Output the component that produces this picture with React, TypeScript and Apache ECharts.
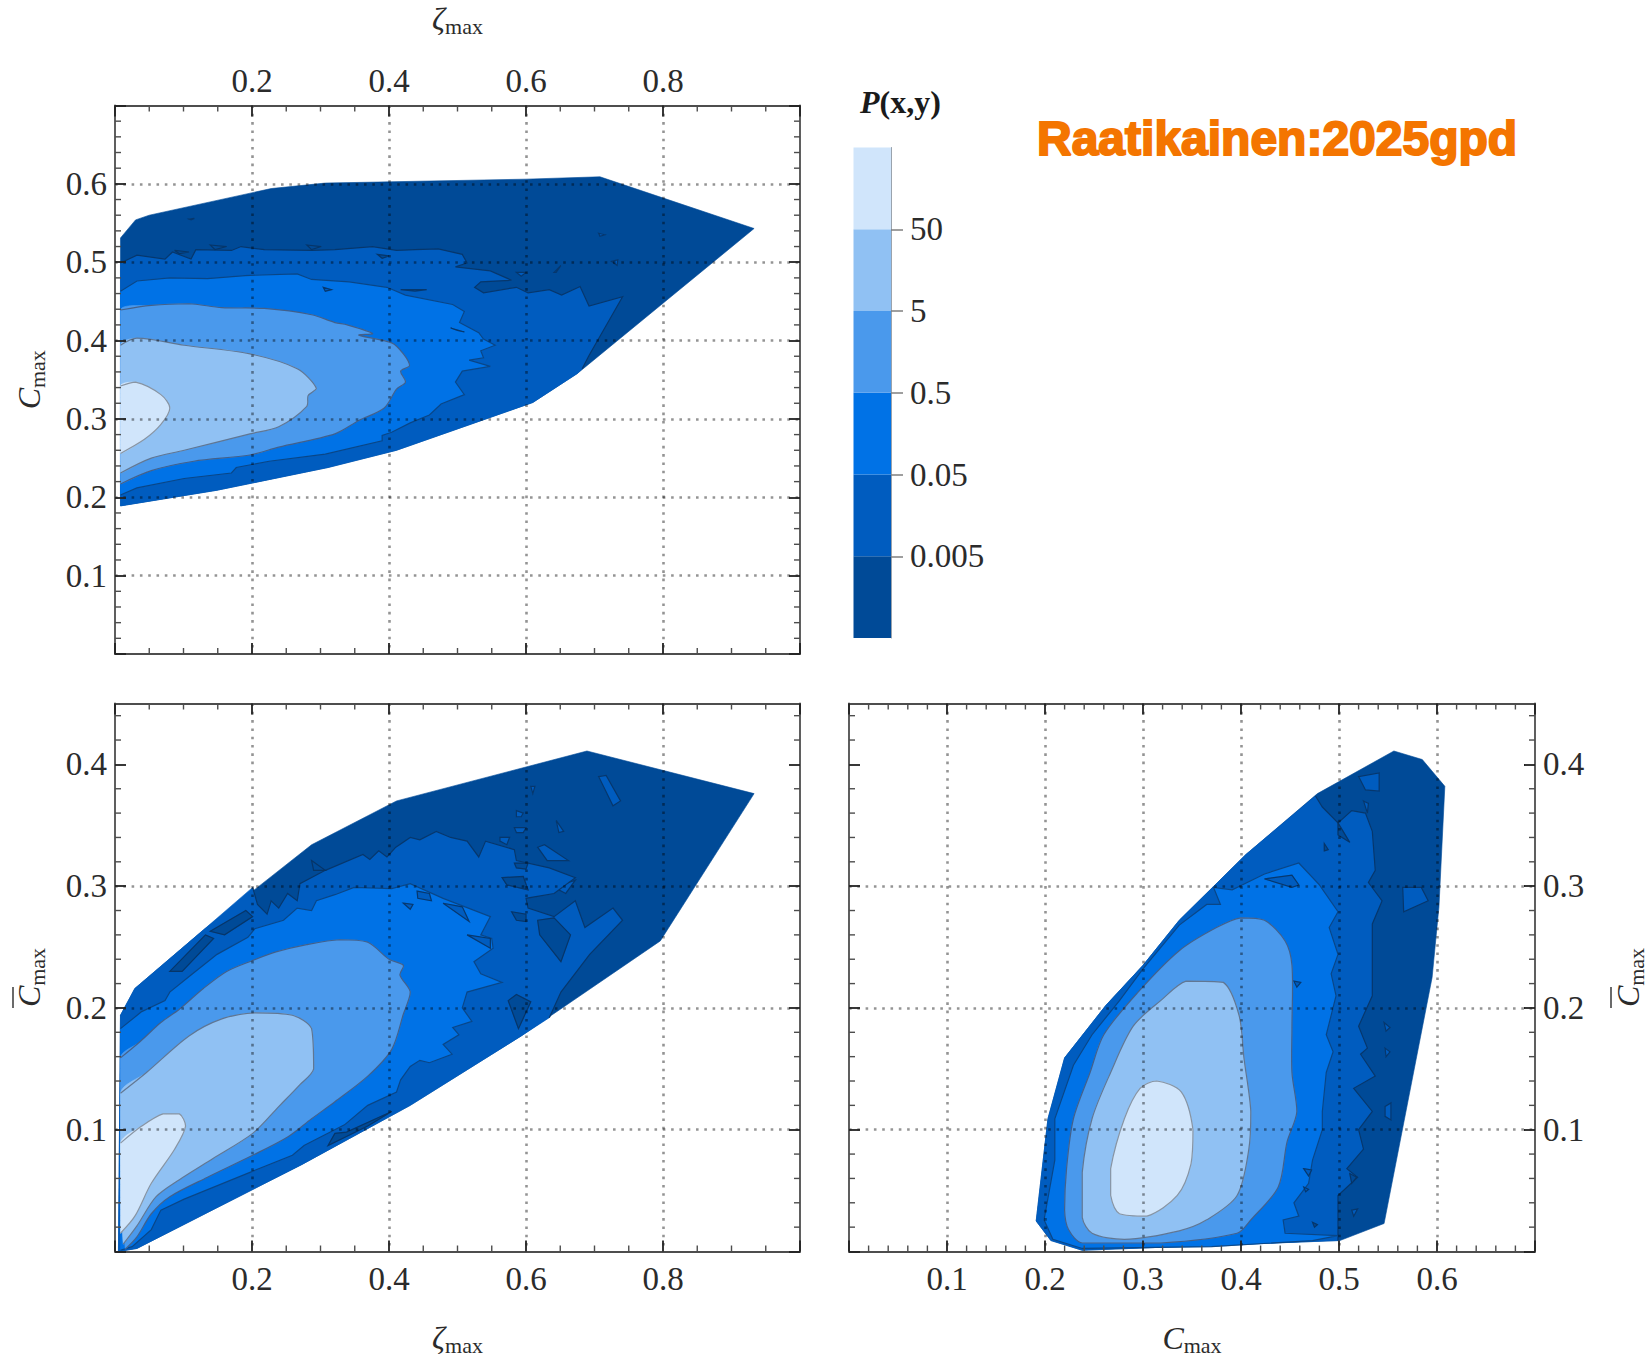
import React, { useEffect, useRef } from "react";
import * as echarts from "echarts";

type Pt = number[];

const levelColors = ["#004a97", "#005cbf", "#0072e6", "#4a99ec", "#90c1f3", "#d0e5fb"];
const contourLines = ["#07315f", "#07315f", "#0a3f78", "#44587a", "#5a6b82", "#7d8794"];
const colorbarTicks = ["", "0.005", "0.05", "0.5", "5", "50", ""];
const colorbarSegments = [1, 1, 1, 1, 1, 1];

// Top-left panel: zeta_max vs C_max
const p1Hull: Pt[] = [[.008,.531],[.030,.554],[.050,.560],[.228,.594],[.307,.601],[.600,.606],[.708,.609],[.933,.543],[.675,.358],[.610,.321],[.411,.260],[.311,.238],[.149,.209],[.008,.189]];
const p1L1Wavy: Pt[] = [[.008,.499],[.032,.509],[.073,.504],[.084,.513],[.111,.504],[.118,.516],[.170,.515],[.184,.520],[.218,.516],[.287,.515],[.321,.516],[.376,.520],[.411,.515],[.438,.516],[.472,.517],[.507,.510],[.514,.499],[.497,.494],[.548,.489],[.579,.477],[.534,.475],[.525,.468],[.538,.461],[.586,.468],[.603,.461],[.634,.465],[.652,.458],[.679,.469],[.692,.444],[.741,.456],[.692,.381],[.682,.364]];
const p1L1Hull: Pt[] = [[.675,.358],[.610,.321],[.411,.260],[.311,.238],[.149,.209],[.008,.189]];
const p1L2: Pt[] = [[.008,.463],[.032,.476],[.080,.480],[.135,.479],[.190,.483],[.266,.485],[.287,.478],[.342,.475],[.397,.468],[.424,.458],[.493,.446],[.510,.437],[.503,.423],[.531,.410],[.538,.402],[.555,.394],[.534,.387],[.538,.378],[.517,.375],[.548,.367],[.507,.361],[.497,.347],[.510,.331],[.476,.319],[.459,.305],[.431,.295],[.404,.283],[.390,.279],[.390,.272],[.307,.255],[.225,.246],[.177,.238],[.170,.231],[.101,.224],[.032,.212],[.008,.203]];
const p1L3: Pt[] = [[.008,.439],[.053,.445],[.108,.447],[.156,.442],[.218,.441],[.287,.433],[.321,.423],[.339,.420],[.376,.409],[.356,.407],[.404,.397],[.421,.383],[.430,.368],[.417,.361],[.424,.347],[.411,.338],[.393,.314],[.356,.298],[.321,.281],[.239,.264],[.197,.254],[.115,.246],[.053,.234],[.008,.217]];
const p1L4: Pt[] = [[.008,.394],[.032,.403],[.101,.394],[.197,.383],[.266,.364],[.294,.339],[.282,.330],[.280,.316],[.239,.290],[.197,.281],[.101,.260],[.053,.250],[.008,.231]];
const p1L5: Pt[] = [[.008,.342],[.030,.347],[.067,.331],[.080,.314],[.067,.293],[.043,.274],[.008,.256]];
const p1IslandsInL0: Pt[][] = [
  [[.725,.501],[.734,.503],[.733,.496]],
  [[.586,.487],[.600,.487],[.593,.482]],
  [[.641,.487],[.651,.496],[.644,.487]],
  [[.706,.537],[.715,.535],[.708,.533]],
  [[.108,.555],[.116,.556],[.111,.554]],
];
const p1IslandsInL1: Pt[][] = [
  [[.139,.522],[.163,.520],[.146,.516]],
  [[.087,.515],[.108,.513],[.094,.511]],
  [[.280,.522],[.301,.520],[.287,.516]],
  [[.383,.510],[.400,.508],[.390,.505]],
];
const p1IslandsInL2: Pt[][] = [
  [[.304,.468],[.316,.465],[.307,.463]],
  [[.417,.465],[.455,.465],[.438,.463]],
  [[.490,.416],[.510,.411],[.500,.413]],
];

// Bottom-left panel: zeta_max vs C-bar_max
const p2Hull: Pt[] = [[.008,.194],[.029,.216],[.129,.264],[.287,.334],[.411,.370],[.689,.411],[.933,.376],[.796,.255],[.593,.177],[.431,.120],[.273,.0715],[.032,.0025],[.005,0]];
const p2L1Upper: Pt[] = [[.008,.194],[.029,.216],[.129,.264],[.201,.299]];
const p2L1Wavy: Pt[] = [[.201,.299],[.208,.285],[.222,.277],[.228,.288],[.239,.282],[.252,.294],[.266,.288],[.270,.302],[.307,.313],[.362,.326],[.372,.322],[.385,.329],[.397,.324],[.410,.332],[.431,.340],[.445,.338],[.469,.345],[.490,.340],[.514,.337],[.531,.324],[.541,.337],[.583,.330],[.586,.321],[.634,.315],[.672,.307],[.641,.294],[.600,.290],[.603,.282],[.641,.275],[.672,.288],[.686,.266],[.727,.282],[.741,.272],[.693,.244],[.651,.213],[.634,.192]];
const p2L1Lower: Pt[] = [[.593,.177],[.431,.120],[.273,.0715],[.032,.0025],[.005,0]];
const p2L2: Pt[] = [[.008,.183],[.039,.197],[.073,.206],[.080,.213],[.111,.227],[.149,.244],[.194,.258],[.204,.265],[.246,.272],[.266,.282],[.287,.280],[.294,.288],[.321,.293],[.349,.299],[.404,.298],[.431,.302],[.479,.290],[.548,.275],[.534,.260],[.550,.257],[.552,.249],[.524,.238],[.534,.228],[.565,.221],[.514,.213],[.507,.200],[.521,.189],[.493,.184],[.502,.178],[.479,.170],[.492,.162],[.459,.155],[.445,.157],[.431,.152],[.417,.141],[.411,.131],[.369,.120],[.335,.104],[.276,.087],[.259,.079],[.197,.065],[.101,.043],[.067,.034],[.053,.018],[.025,.004],[.008,.001]];
const p2L3: Pt[] = [[.008,.159],[.036,.172],[.067,.188],[.094,.199],[.129,.216],[.163,.230],[.201,.239],[.235,.246],[.280,.252],[.328,.256],[.369,.254],[.400,.240],[.421,.235],[.416,.227],[.431,.213],[.421,.195],[.404,.166],[.369,.144],[.321,.123],[.287,.109],[.252,.094],[.201,.079],[.135,.061],[.080,.045],[.053,.031],[.032,.012],[.015,.002]];
const p2L4: Pt[] = [[.008,.130],[.046,.147],[.108,.177],[.156,.191],[.204,.196],[.259,.194],[.287,.183],[.290,.150],[.270,.137],[.239,.119],[.201,.097],[.142,.076],[.094,.059],[.060,.045],[.032,.021],[.012,.006]];
const p2L5: Pt[] = [[.008,.089],[.039,.103],[.070,.113],[.094,.113],[.103,.103],[.087,.084],[.053,.056],[.029,.029],[.008,.015]];
const p2IslandsInL0: Pt[][] = [
  [[.706,.390],[.717,.391],[.738,.370],[.727,.366]],
  [[.644,.354],[.655,.345],[.648,.344]],
  [[.562,.340],[.576,.340],[.572,.334],[.562,.337]],
  [[.583,.348],[.600,.348],[.596,.344],[.586,.344]],
  [[.586,.362],[.596,.360],[.593,.357],[.586,.357]],
  [[.607,.382],[.613,.382],[.610,.376]],
  [[.617,.332],[.627,.334],[.662,.321],[.631,.321]],
  [[.641,.299],[.672,.305],[.658,.294]],
];
const p2IslandsInL1: Pt[][] = [
  [[.080,.230],[.132,.260],[.144,.257],[.098,.230]],
  [[.139,.263],[.191,.280],[.201,.275],[.160,.260]],
  [[.574,.206],[.586,.211],[.607,.205],[.589,.183]],
  [[.617,.272],[.641,.274],[.665,.260],[.651,.238],[.620,.260]],
  [[.565,.307],[.596,.308],[.603,.297],[.572,.301]],
  [[.579,.279],[.600,.277],[.600,.271],[.586,.272]],
  [[.583,.319],[.603,.319],[.600,.314],[.586,.315]],
  [[.287,.321],[.307,.313],[.290,.313]],
  [[.311,.087],[.321,.097],[.338,.098],[.404,.115],[.369,.103]],
];
const p2IslandsInL2: Pt[][] = [
  [[.479,.286],[.507,.283],[.517,.271]],
  [[.514,.260],[.548,.257],[.548,.249]],
  [[.421,.286],[.435,.285],[.431,.281]],
  [[.441,.296],[.459,.294],[.462,.288],[.442,.290]],
];

// Bottom-right panel: C_max vs C-bar_max
const p3Hull: Pt[] = [[.191,.025],[.206,.009],[.238,.001],[.501,.009],[.546,.023],[.595,.225],[.602,.283],[.608,.382],[.585,.404],[.556,.411],[.478,.376],[.405,.326],[.337,.272],[.300,.235],[.262,.202],[.220,.159],[.203,.109]];
const p3L1Wavy: Pt[] = [[.476,.374],[.483,.365],[.499,.352],[.513,.362],[.527,.360],[.534,.345],[.537,.313],[.530,.303],[.544,.288],[.534,.269],[.534,.210],[.520,.185],[.529,.167],[.522,.162],[.537,.144],[.515,.134],[.534,.115],[.520,.100],[.525,.084],[.508,.068],[.519,.061],[.499,.046],[.499,.009]];
const p3L1Hull: Pt[] = [[.238,.001],[.206,.009],[.191,.025],[.203,.109],[.220,.159],[.262,.202],[.300,.235],[.337,.272],[.405,.326]];
const p3L2: Pt[] = [[.379,.285],[.372,.299],[.391,.297],[.424,.310],[.459,.319],[.480,.301],[.499,.279],[.490,.266],[.499,.244],[.492,.228],[.497,.210],[.487,.178],[.494,.164],[.487,.147],[.483,.115],[.483,.100],[.473,.075],[.469,.056],[.454,.040],[.459,.029],[.443,.026],[.445,.015],[.499,.013],[.473,.009],[.370,.004],[.238,.0025],[.208,.010],[.199,.026],[.210,.075],[.210,.109],[.229,.153],[.248,.178],[.276,.206],[.300,.232],[.337,.268],[.365,.285]];
const p3L3: Pt[] = [[.220,.034],[.222,.068],[.229,.109],[.246,.147],[.260,.178],[.295,.213],[.337,.247],[.375,.266],[.400,.274],[.424,.272],[.445,.255],[.452,.235],[.452,.184],[.452,.147],[.457,.115],[.447,.090],[.438,.053],[.410,.026],[.396,.015],[.318,.007],[.238,.007],[.224,.018]];
const p3L4: Pt[] = [[.238,.028],[.238,.065],[.248,.109],[.267,.147],[.290,.185],[.318,.206],[.344,.222],[.382,.221],[.398,.194],[.403,.159],[.410,.115],[.408,.084],[.396,.046],[.365,.026],[.337,.017],[.281,.010],[.248,.015]];
const p3L5: Pt[] = [[.267,.046],[.267,.068],[.281,.109],[.297,.134],[.314,.140],[.339,.131],[.351,.100],[.349,.072],[.335,.046],[.304,.029],[.276,.031]];
const p3IslandsInL0: Pt[][] = [
  [[.520,.390],[.541,.393],[.541,.378],[.527,.379]],
  [[.565,.299],[.584,.299],[.591,.288],[.566,.279]],
  [[.513,.034],[.519,.035],[.515,.029]],
  [[.546,.188],[.552,.184],[.548,.181]],
  [[.547,.167],[.552,.164],[.548,.160]],
  [[.547,.119],[.553,.122],[.553,.108],[.547,.111]],
  [[.525,.370],[.530,.368],[.529,.360]],
];
const p3IslandsInL1: Pt[][] = [
  [[.499,.352],[.511,.336],[.499,.342]],
  [[.485,.335],[.489,.330],[.485,.329]],
  [[.511,.064],[.518,.061],[.513,.056]],
  [[.473,.024],[.478,.022],[.475,.020]],
];
const p3IslandsInL2: Pt[][] = [
  [[.424,.306],[.452,.309],[.459,.301],[.452,.299]],
  [[.454,.222],[.461,.221],[.457,.217]],
  [[.464,.068],[.472,.067],[.469,.062]],
  [[.464,.053],[.469,.051],[.466,.049]],
];

const zetaMajor = [0, 0.2, 0.4, 0.6, 0.8, 1];
const cMajor = [0, 0.1, 0.2, 0.3, 0.4, 0.5, 0.6, 0.7];
const cBarMajor = [0, 0.1, 0.2, 0.3, 0.4];
const zetaMinor = [.05,.1,.15,.25,.3,.35,.45,.5,.55,.65,.7,.75,.85,.9,.95];
const cMinor = [.02,.04,.06,.08,.12,.14,.16,.18,.22,.24,.26,.28,.32,.34,.36,.38,.42,.44,.46,.48,.52,.54,.56,.58,.62,.64,.66,.68];
const cBarMinor = [.02,.04,.06,.08,.12,.14,.16,.18,.22,.24,.26,.28,.32,.34,.36,.38,.42,.44];

const SERIF = "Liberation Serif";
const INK = "#2b2b2b";
const FRAME = "#4d4d4d";
const LABEL_SIZE = 33;

type Layer = { level: number; fill: Pt[]; line: Pt[] | null; closed: boolean };

const layersFor = (
  hull: Pt[], l1Fill: Pt[], l1Line: Pt[], l2: Pt[], l3: Pt[], l4: Pt[], l5: Pt[],
  inL0: Pt[][], inL1: Pt[][], inL2: Pt[][], closed: boolean
): Layer[] => [
  { level: 0, fill: hull, line: null, closed: true },
  ...inL0.map((p) => ({ level: 1, fill: p, line: p, closed: true })),
  { level: 1, fill: l1Fill, line: l1Line, closed: false },
  ...inL1.map((p) => ({ level: 0, fill: p, line: p, closed: true })),
  { level: 2, fill: l2, line: l2, closed },
  ...inL2.map((p) => ({ level: 1, fill: p, line: p, closed: true })),
  { level: 3, fill: l3, line: l3, closed },
  { level: 4, fill: l4, line: l4, closed },
  { level: 5, fill: l5, line: l5, closed },
];

const bounds = (pts: number[][]) => [
  [Math.min(...pts.map((p) => p[0])), Math.min(...pts.map((p) => p[1]))],
  [Math.max(...pts.map((p) => p[0])), Math.max(...pts.map((p) => p[1]))],
];

const contourSeries = (axis: number, layers: Layer[]) => ({
  type: "custom",
  xAxisIndex: axis,
  yAxisIndex: axis,
  clip: false,
  z: 2,
  silent: true,
  data: layers.map((l) => [l.fill[0][0], l.fill[0][1]]),
  renderItem: (params: any, api: any) => {
    const l = layers[params.dataIndex];
    const map = (pts: Pt[]) => pts.map((p) => api.coord(p));
    const smooth = l.level >= 3 && l.fill.length > 5 ? 0.3 : 0;
    const fillPts = map(l.fill);
    const box = bounds(fillPts);
    const children: any[] = [
      { type: "polygon", shape: { points: fillPts, smooth, smoothConstraint: box }, style: { fill: levelColors[l.level], stroke: levelColors[l.level], lineWidth: 0.6 } },
    ];
    if (l.line) {
      children.push({
        type: l.closed ? "polygon" : "polyline",
        shape: { points: map(l.line), smooth, smoothConstraint: box },
        style: { fill: "none", stroke: contourLines[l.level], lineWidth: 1.2, opacity: 0.85 },
      });
    }
    return { type: "group", children };
  },
});

// Minor ticks, placed from the axis scales.
const minorTickSeries = (axis: number, xMinor: number[], yMinor: number[], xMax: number, yMax: number) => {
  const marks: number[][] = [];
  xMinor.forEach((v) => { marks.push([v, 0, 0, -1]); marks.push([v, yMax, 0, 1]); });
  yMinor.forEach((v) => { marks.push([0, v, 1, 0]); marks.push([xMax, v, -1, 0]); });
  return {
    type: "custom",
    xAxisIndex: axis,
    yAxisIndex: axis,
    clip: false,
    z: 12,
    silent: true,
    data: marks,
    renderItem: (_: any, api: any) => {
      const p = api.coord([api.value(0), api.value(1)]);
      return {
        type: "line",
        shape: { x1: p[0], y1: p[1], x2: p[0] + api.value(2) * 6, y2: p[1] + api.value(3) * 6 },
        style: { stroke: FRAME, lineWidth: 1.4 },
      };
    },
  };
};

const nameRich = {
  i: { fontFamily: SERIF, fontStyle: "italic", fontSize: 32, lineHeight: 32, verticalAlign: "top", color: INK },
  s: { fontFamily: SERIF, fontSize: 22, lineHeight: 22, padding: [13, 0, 0, 0], verticalAlign: "top", color: INK },
};

const gridLine = { lineStyle: { color: "rgba(0,0,0,0.42)", width: 2.6, type: [2.6, 5.7] }, showMinLine: false, showMaxLine: false };

const axisOf = (opts: {
  grid: number; pos: string; min: number; max: number; interval: number;
  major: number[]; labels?: number[]; name?: string; gap?: number; split?: boolean; margin?: number; rotate?: boolean;
}) => ({
  type: "value",
  gridIndex: opts.grid,
  position: opts.pos,
  min: opts.min,
  max: opts.max,
  interval: opts.interval,
  z: 10,
  name: opts.name,
  nameLocation: "middle",
  nameGap: opts.gap,
  nameMoveOverlap: false,
  nameRotate: opts.rotate ? 90 : 0,
  nameTextStyle: { rich: nameRich },
  axisLine: { show: true, onZero: false, lineStyle: { color: FRAME, width: 1.8 } },
  axisTick: { show: true, inside: true, length: 11, customValues: opts.major, lineStyle: { color: "#222", width: 1.8 } },
  minorTick: { show: false },
  axisLabel: opts.labels
    ? { show: true, customValues: opts.labels, margin: opts.margin ?? 10, fontFamily: SERIF, fontSize: LABEL_SIZE, color: INK, formatter: (v: number) => v.toFixed(1) }
    : { show: false },
  splitLine: opts.split ? { show: true, ...gridLine } : { show: false },
});

const panels = [
  { left: 115, top: 105.5, width: 685, height: 548.5, outerBoundsMode: "none" },
  { left: 115, top: 703.5, width: 685, height: 548, outerBoundsMode: "none" },
  { left: 849, top: 703.5, width: 686, height: 548, outerBoundsMode: "none" },
];

const buildOption = () => ({
  animation: false,
  backgroundColor: "#ffffff",
  title: [
    {
      text: "Raatikainen:2025gpd",
      left: 1032,
      top: 109,
      textStyle: { fontFamily: "Liberation Sans", fontWeight: "bold", fontSize: 48, color: "#f47500", textBorderColor: "#f47500", textBorderWidth: 2 },
    },
  ],
  graphic: [
    {
      type: "text",
      x: 860,
      y: 85,
      style: {
        text: "{p|P}{b|(x,y)}",
        rich: {
          p: { fontFamily: SERIF, fontStyle: "italic", fontWeight: "bold", fontSize: 32, fill: "#1a1a1a", lineHeight: 34 },
          b: { fontFamily: SERIF, fontWeight: "bold", fontSize: 32, fill: "#1a1a1a", lineHeight: 34 },
        },
      },
    },
    { type: "line", shape: { x1: 13, y1: 987, x2: 13, y2: 1008 }, style: { stroke: INK, lineWidth: 1.4 } },
    { type: "line", shape: { x1: 1611, y1: 987, x2: 1611, y2: 1008 }, style: { stroke: INK, lineWidth: 1.4 } },
  ],
  grid: [
    ...panels,
    { left: 853.5, top: 147.5, width: 37.5, height: 490.5, outerBoundsMode: "none" },
  ],
  xAxis: [
    axisOf({ grid: 0, pos: "bottom", min: 0, max: 1, interval: 0.2, major: zetaMajor, split: true }),
    axisOf({ grid: 0, pos: "top", min: 0, max: 1, interval: 0.2, major: zetaMajor, labels: [0.2, 0.4, 0.6, 0.8], margin: 8, name: "{i|ζ}{s|max}", gap: 71 }),
    axisOf({ grid: 1, pos: "bottom", min: 0, max: 1, interval: 0.2, major: zetaMajor, labels: [0.2, 0.4, 0.6, 0.8], margin: 11, name: "{i|ζ}{s|max}", gap: 70, split: true }),
    axisOf({ grid: 1, pos: "top", min: 0, max: 1, interval: 0.2, major: zetaMajor }),
    axisOf({ grid: 2, pos: "bottom", min: 0, max: 0.7, interval: 0.1, major: cMajor, labels: [0.1, 0.2, 0.3, 0.4, 0.5, 0.6], margin: 11, name: "{i|C}{s|max}", gap: 70, split: true }),
    axisOf({ grid: 2, pos: "top", min: 0, max: 0.7, interval: 0.1, major: cMajor }),
    { type: "category", gridIndex: 3, data: ["P(x,y)"], show: false },
  ],
  yAxis: [
    axisOf({ grid: 0, pos: "left", min: 0, max: 0.7, interval: 0.1, major: cMajor, labels: [0.1, 0.2, 0.3, 0.4, 0.5, 0.6], margin: 8, name: "{i|C}{s|max}", gap: 70, split: true, rotate: true }),
    axisOf({ grid: 0, pos: "right", min: 0, max: 0.7, interval: 0.1, major: cMajor }),
    axisOf({ grid: 1, pos: "left", min: 0, max: 0.45, interval: 0.1, major: cBarMajor, labels: [0.1, 0.2, 0.3, 0.4], margin: 8, name: "{i|C}{s|max}", gap: 70, split: true, rotate: true }),
    axisOf({ grid: 1, pos: "right", min: 0, max: 0.45, interval: 0.1, major: cBarMajor }),
    axisOf({ grid: 2, pos: "left", min: 0, max: 0.45, interval: 0.1, major: cBarMajor, split: true }),
    axisOf({ grid: 2, pos: "right", min: 0, max: 0.45, interval: 0.1, major: cBarMajor, labels: [0.1, 0.2, 0.3, 0.4], margin: 8, name: "{i|C}{s|max}", gap: 77, rotate: true }),
    {
      type: "value",
      gridIndex: 3,
      position: "right",
      min: 0,
      max: 6,
      interval: 1,
      z: 10,
      axisLine: { show: true, onZero: false, lineStyle: { color: "#9aa3ad", width: 1 } },
      axisTick: { show: true, length: 12, customValues: [1, 2, 3, 4, 5], lineStyle: { color: "#7f7f7f", width: 1.5 } },
      axisLabel: {
        show: true,
        customValues: [1, 2, 3, 4, 5],
        margin: 19,
        fontFamily: SERIF,
        fontSize: LABEL_SIZE,
        color: INK,
        formatter: (v: number) => colorbarTicks[Math.round(v)],
      },
      splitLine: { show: false },
    },
  ],
  series: [
    contourSeries(0, layersFor(p1Hull, [...p1L1Wavy, ...p1L1Hull], p1L1Wavy, p1L2, p1L3, p1L4, p1L5, p1IslandsInL0, p1IslandsInL1, p1IslandsInL2, false)),
    contourSeries(2, layersFor(p2Hull, [...p2L1Upper, ...p2L1Wavy, ...p2L1Lower], p2L1Wavy, p2L2, p2L3, p2L4, p2L5, p2IslandsInL0, p2IslandsInL1, p2IslandsInL2, false)),
    contourSeries(4, layersFor(p3Hull, [...p3L1Wavy, ...p3L1Hull], p3L1Wavy, p3L2, p3L3, p3L4, p3L5, p3IslandsInL0, p3IslandsInL1, p3IslandsInL2, true)),
    minorTickSeries(0, zetaMinor, cMinor, 1, 0.7),
    minorTickSeries(2, zetaMinor, cBarMinor, 1, 0.45),
    minorTickSeries(4, cMinor, cBarMinor, 0.7, 0.45),
    ...colorbarSegments.map((v, i) => ({
      type: "bar",
      xAxisIndex: 6,
      yAxisIndex: 6,
      stack: "colorbar",
      barWidth: "100%",
      silent: true,
      data: [v],
      itemStyle: { color: levelColors[i] },
    })),
  ],
});

export default function App() {
  const ref = useRef<HTMLDivElement>(null);
  useEffect(() => {
    const chart = echarts.init(ref.current!, undefined, { renderer: "svg" });
    chart.setOption(buildOption() as any);
    return () => chart.dispose();
  }, []);
  return <div ref={ref} style={{ position: "absolute", left: 0, top: 0, width: 1651, height: 1359 }} />;
}
